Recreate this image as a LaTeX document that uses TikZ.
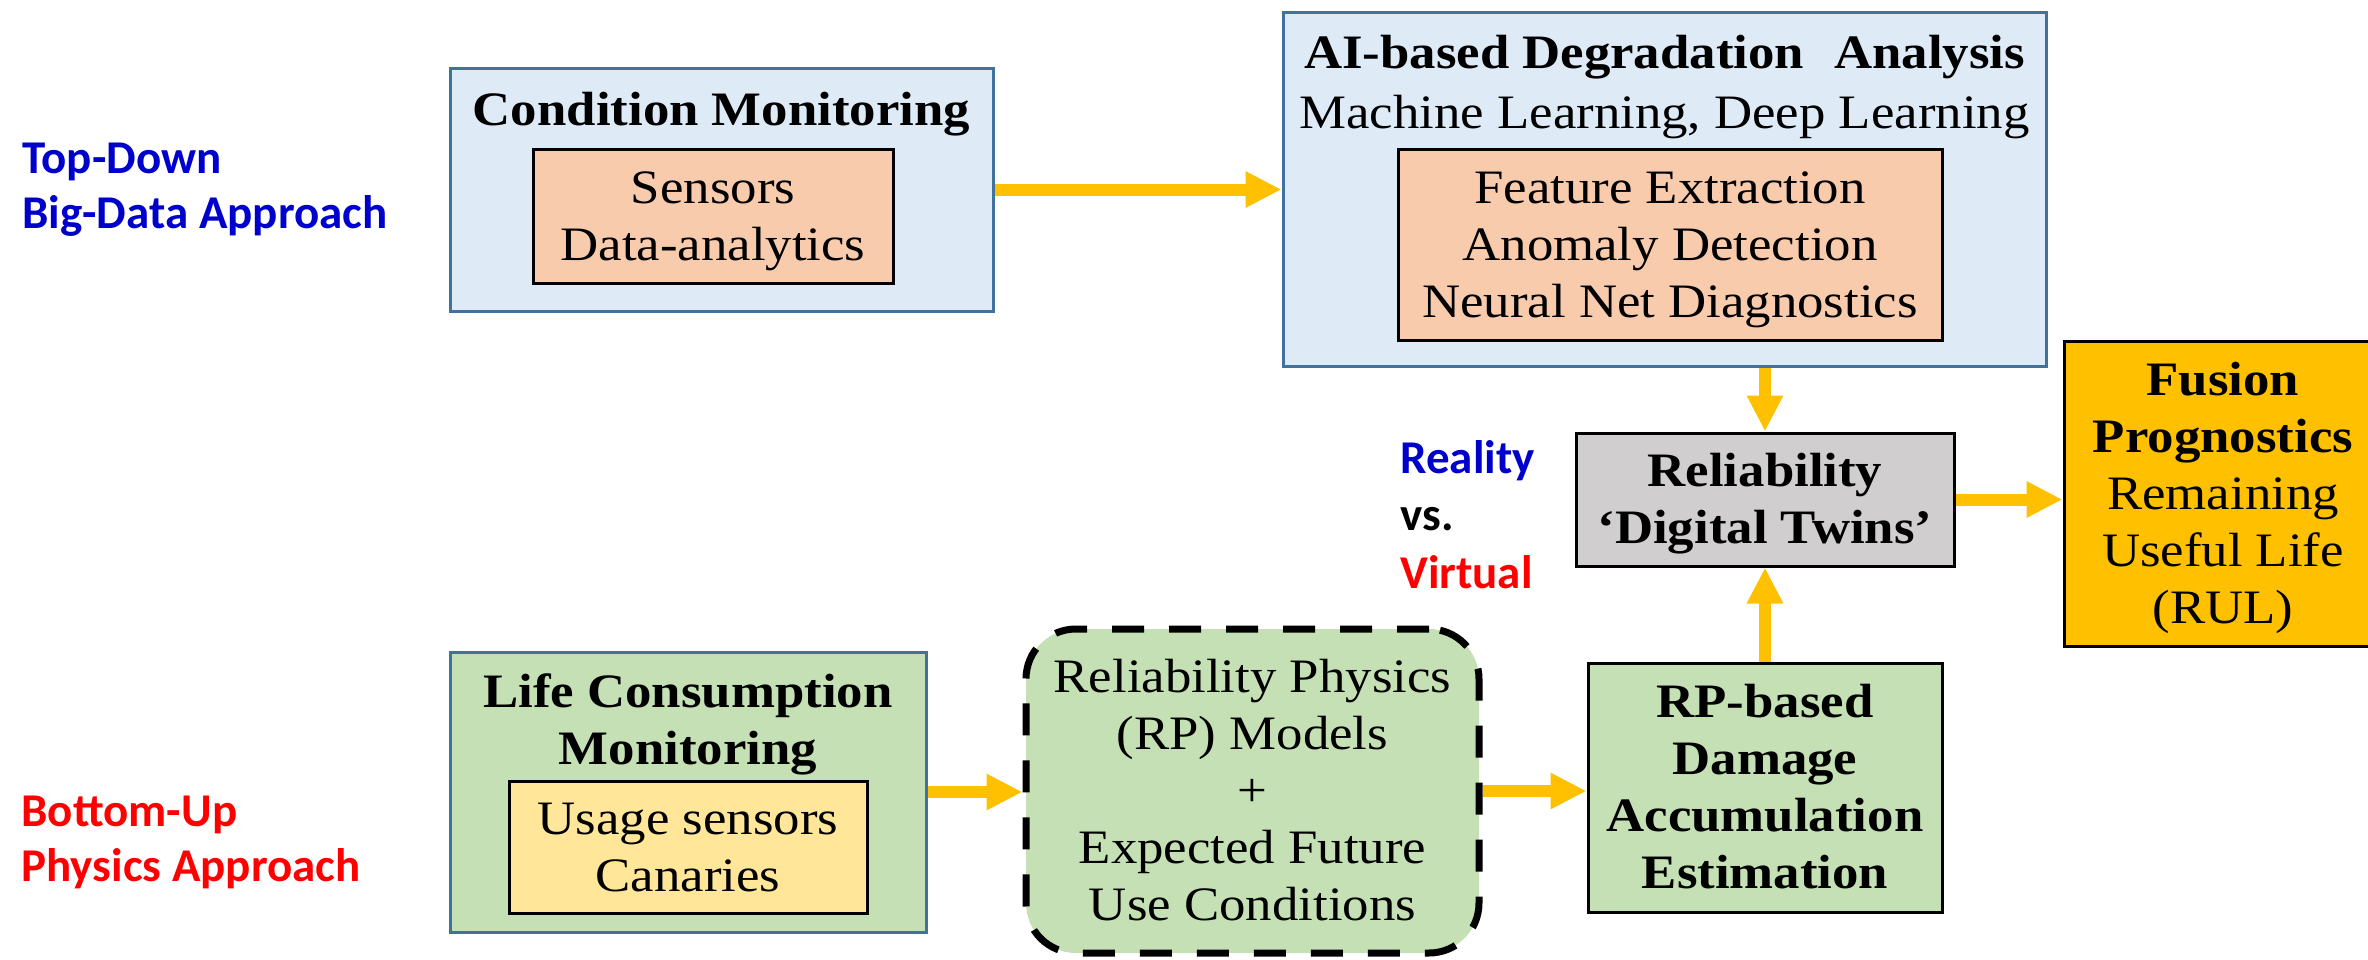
\documentclass[tikz,border=0pt]{standalone}
\usepackage{fontspec}
\setmainfont{Liberation Serif}[FakeStretch=1.1]
\newfontfamily\calib{Carlito}
\usetikzlibrary{arrows.meta}
\definecolor{bluefill}{HTML}{DEEBF7}
\definecolor{blueline}{HTML}{41719C}
\definecolor{salmon}{HTML}{F8CBAD}
\definecolor{greenfill}{HTML}{C5E0B4}
\definecolor{yellowfill}{HTML}{FFE699}
\definecolor{grayfill}{HTML}{D0CECE}
\definecolor{orangefill}{HTML}{FFC000}
\definecolor{labelblue}{HTML}{0000CC}
\definecolor{labelred}{HTML}{FF0000}
\begin{document}
\begin{tikzpicture}[x=0.5pt,y=-0.5pt,
  sz/.style 2 args={minimum width=#1*0.5pt, minimum height=#2*0.5pt},
  outerbox/.style={draw=blueline,line width=1.5pt,inner sep=0pt},
  innerbox/.style={draw=black,line width=1.5pt,inner sep=0pt},
  txt/.style={font=\fontsize{24}{28.5}\selectfont, align=center, inner sep=0pt, text height=16.9pt, text depth=1pt},
  btxt/.style={font=\fontsize{24}{28.5}\selectfont\bfseries, align=center, inner sep=0pt, text height=16.9pt, text depth=1pt},
  two/.style={text height=45.4pt},
  three/.style={text height=73.9pt},
  four/.style={text height=102.4pt},
  five/.style={text height=130.9pt},
  side/.style={font=\calib\bfseries\fontsize{23.5}{27.5}\selectfont, align=left, anchor=west, inner sep=0pt, text height=16pt, text depth=1pt},
  flow/.style={draw=orangefill, line width=6pt, -{Triangle[length=18pt,width=17pt]}},
]
\useasboundingbox (0,0) rectangle (2368,959);

% side labels
\node[side, text=labelblue, text height=43.5pt] (td) at (22,185.5) {Top-Down\\Big-Data Approach};
\node[side, text=labelred, text height=43.5pt] (bu) at (21,838.5) {Bottom-Up\\Physics Approach};
\node[side, text=labelblue] (rv1) at (1400,458) {Reality};
\node[side, text=black] (rv2) at (1400,515) {vs.};
\node[side, text=labelred] (rv3) at (1400,573) {Virtual};

% Condition monitoring
\node[outerbox, fill=bluefill, sz={543}{243}] (cm) at (721.5,189.5) {};
\node[btxt] (cmtitle) at (721.5,110) {Condition Monitoring};
\node[innerbox, fill=salmon, sz={360}{134}, txt, two] (cmin) at (713,216) {Sensors\\Data-analytics};

% AI box
\node[outerbox, fill=bluefill, sz={763}{354}] (ai) at (1664.5,189) {};
\node[btxt] (aititle) at (1664.5,53) {AI-based Degradation\hspace{0.35em} Analysis};
\node[txt] (aisub) at (1664.5,113) {Machine Learning, Deep Learning};
\node[innerbox, fill=salmon, sz={544}{191}, txt, three] (aiin) at (1670,244.5) {Feature Extraction\\Anomaly Detection\\Neural Net Diagnostics};

% Reliability digital twins
\node[innerbox, fill=grayfill, sz={378}{133}, btxt, two] (rel) at (1765,499.5) {Reliability\\‘Digital Twins’};

% Fusion
\node[innerbox, fill=orangefill, sz={318}{305}, txt, five] (fusion) at (2223,493.5) {\textbf{Fusion}\\\textbf{Prognostics}\\Remaining\\Useful Life\\(RUL)};

% Life consumption monitoring
\node[outerbox, fill=greenfill, sz={476}{280}] (lcm) at (688,792) {};
\node[btxt, two] (lcmtitle) at (688,720) {Life Consumption\\Monitoring};
\node[innerbox, fill=yellowfill, sz={358}{132}, txt, two] (lcmin) at (688,847) {Usage sensors\\Canaries};

% RP models
\node[draw=black, line width=3.5pt, dash pattern=on 16pt off 12.5pt, rounded corners=25pt, fill=greenfill, sz={453}{324}, txt, five] (rp) at (1252.5,791) {Reliability Physics\\(RP) Models\\+\\Expected Future\\Use Conditions};

% RP-based damage
\node[innerbox, fill=greenfill, sz={354}{249}, btxt, four] (rpb) at (1765,787.5) {RP-based\\Damage\\Accumulation\\Estimation};

% connectors
\draw[flow] (cm.east) -- (ai.west |- cm.east);
\draw[flow] (rel.north |- ai.south) -- (rel.north);
\draw[flow] (rpb.north) -- (rel.south);
\draw[flow] (rel.east) -- (fusion.west |- rel.east);
\draw[flow] (lcm.east) -- (rp.west |- lcm.east);
\draw[flow] (rp.east) -- (rpb.west |- rp.east);
\end{tikzpicture}
\end{document}
